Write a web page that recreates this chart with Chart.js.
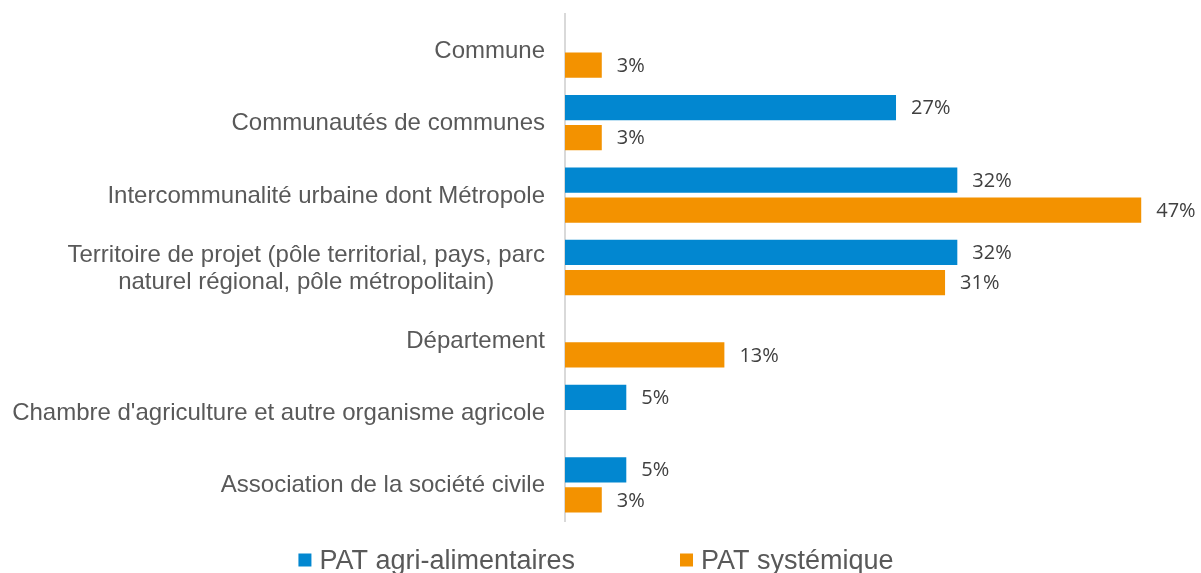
<!DOCTYPE html>
<html lang="fr">
<head>
<meta charset="UTF-8">
<title>Porteurs des PAT</title>
<script src="https://cdn.jsdelivr.net/npm/chart.js"></script>
<style>
    html, body { margin: 0; padding: 0; background: #fff; }
    #wrap { position: relative; width: 1201px; height: 573px; }
</style>
</head>
<body>
<div id="wrap"><canvas id="chart"></canvas></div>
<script>
// Porteurs de projet, par type de PAT (en %)
const categories = [
    ['Commune'],
    ['Communautés de communes'],
    ['Intercommunalité urbaine dont Métropole'],
    ['Territoire de projet (pôle territorial, pays, parc', 'naturel régional, pôle métropolitain)'],
    ['Département'],
    ["Chambre d'agriculture et autre organisme agricole"],
    ['Association de la société civile']
];
const seriesNames = ['PAT agri-alimentaires', 'PAT systémique'];
const agriValues = [null, 27, 32, 32, null, 5, 5];
const systemiqueValues = [3, 3, 47, 31, 13, null, 3];

const BLUE = '#0287D0';
const ORANGE = '#F39200';

// category labels: block right-aligned, lines centred on each other
const categoryLabels = {
    id: 'categoryLabels',
    afterDraw(chart) {
        const ctx = chart.ctx;
        const y = chart.scales.y;
        const right = 545;
        const lh = 27;
        ctx.save();
        ctx.font = '24px "Liberation Sans", Arial, sans-serif';
        ctx.fillStyle = '#595959';
        ctx.textAlign = 'center';
        ctx.textBaseline = 'middle';
        categories.forEach((lines, i) => {
            const cy = y.getPixelForValue(i) + 1;
            const w = Math.max(...lines.map(l => ctx.measureText(l).width));
            const top = cy - (lines.length - 1) * lh / 2;
            lines.forEach((l, k) => ctx.fillText(l, right - w / 2, top + k * lh));
        });
        ctx.restore();
    }
};

// value labels at the end of each bar
const valueLabels = {
    id: 'valueLabels',
    afterDatasetsDraw(chart) {
        const ctx = chart.ctx;
        ctx.save();
        ctx.font = '20px "Open Sans", sans-serif';
        ctx.fillStyle = '#404040';
        ctx.textAlign = 'left';
        ctx.textBaseline = 'middle';
        chart.data.datasets.forEach((ds, di) => {
            chart.getDatasetMeta(di).data.forEach((bar, i) => {
                const v = ds.data[i];
                if (v == null) return;
                ctx.fillText(v + '%', bar.x + 15, bar.y + 1);
            });
        });
        ctx.restore();
    }
};

// legend row under the plot
const bottomLegend = {
    id: 'bottomLegend',
    afterDraw(chart) {
        const ctx = chart.ctx;
        const box = 13, gapText = 8, gapItems = 105, cy = 560;
        ctx.save();
        ctx.font = '27px "Liberation Sans", Arial, sans-serif';
        ctx.textBaseline = 'middle';
        const widths = chart.data.datasets.map(ds => box + gapText + ctx.measureText(ds.label).width);
        const total = widths.reduce((a, b) => a + b, 0) + gapItems;
        let x = (chart.width - total) / 2 - 4.5;
        chart.data.datasets.forEach((ds, i) => {
            ctx.fillStyle = ds.backgroundColor;
            ctx.fillRect(x, cy - box / 2, box, box);
            ctx.fillStyle = '#595959';
            ctx.fillText(ds.label, x + box + gapText, cy + 2);
            x += widths[i] + gapItems;
        });
        ctx.restore();
    }
};

new Chart(document.getElementById('chart'), {
    type: 'bar',
    data: {
        labels: categories,
        datasets: [
            { label: seriesNames[0], data: agriValues, backgroundColor: BLUE },
            { label: seriesNames[1], data: systemiqueValues, backgroundColor: ORANGE }
        ]
    },
    options: {
        indexAxis: 'y',
        responsive: true,
        maintainAspectRatio: false,
        animation: false,
        categoryPercentage: 0.83,
        barPercentage: 0.84,
        layout: { padding: { top: 14, right: 23, bottom: 52, left: 0 } },
        plugins: {
            legend: { display: false },
            tooltip: { enabled: false }
        },
        scales: {
            x: {
                display: false,
                min: 0,
                max: 50
            },
            y: {
                grid: { display: false },
                border: { display: true, color: '#D9D9D9', width: 2 },
                ticks: { display: false },
                afterFit(scale) { scale.width = 565; }
            }
        }
    },
    plugins: [categoryLabels, valueLabels, bottomLegend]
});
</script>
</body>
</html>
